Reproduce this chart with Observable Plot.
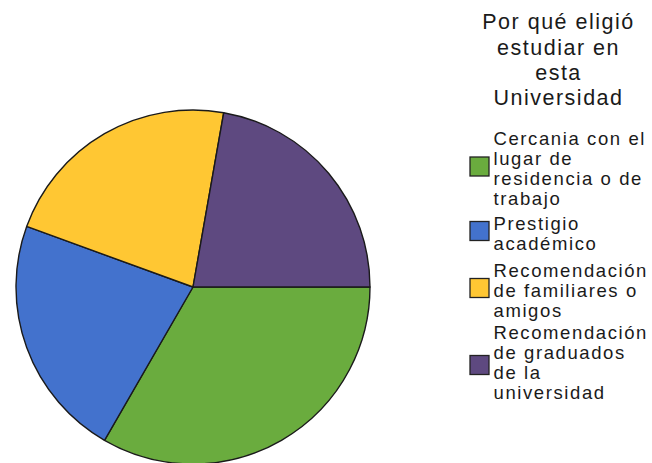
<!DOCTYPE html>
<html>
<head>
<meta charset="utf-8">
<script src="https://cdn.jsdelivr.net/npm/d3@7"></script>
<script src="https://cdn.jsdelivr.net/npm/@observablehq/plot@0.6"></script>
<style>
  html, body { margin: 0; padding: 0; background: #ffffff; }
  #chart svg .ttl text, #chart svg text.ttl { letter-spacing: 1.5px; }
  #chart svg .itm text, #chart svg text.itm { letter-spacing: 1.6px; }
</style>
</head>
<body>
<div id="chart"></div>
<script>
// ---- data ----
const categories = [
  "Cercania con el lugar de residencia o de trabajo",
  "Prestigio académico",
  "Recomendación de familiares o amigos",
  "Recomendación de graduados de la universidad"
];
const counts = [3, 2, 2, 2];
const legendLabels = [
  "Cercania con el\nlugar de\nresidencia o de\ntrabajo",
  "Prestigio\nacadémico",
  "Recomendación\nde familiares o\namigos",
  "Recomendación\nde graduados\nde la\nuniversidad"
];
const sliceColors = ["#6aac3e", "#4372cd", "#ffc733", "#5e4980"];
const legendTitle = "Por qué eligió\nestudiar en\nesta\nUniversidad";

// ---- layout (pixel-like data space) ----
const W = 652, H = 463;
const PIE = {cx: 193, cy: 287, r: 177};
const TITLE = {x: 558, top: 11};
const textTops = [130, 215, 262, 324];
const swatchCenters = [166.5, 231, 288, 365];
const SW = {x1: 470, x2: 489, size: 19, textX: 493};

const rows = categories.map((c, i) => ({
  category: c, count: counts[i], label: legendLabels[i],
  top: textTops[i], sc: swatchCenters[i]
}));

function pieMark(...args) {
  const scales = args.find(a => a && typeof a.x === "function" && typeof a.y === "function");
  const cx = scales.x(PIE.cx), cy = scales.y(PIE.cy);
  const r = scales.x(PIE.cx + PIE.r) - cx;
  const colorOf = scales.color ? scales.color : (c => sliceColors[categories.indexOf(c)]);
  const arcs = d3.pie().sort(null).value(d => d.count)
    .startAngle(Math.PI / 2).endAngle(Math.PI / 2 + 2 * Math.PI)(rows);
  const g = d3.create("svg:g").attr("transform", `translate(${cx},${cy})`);
  g.selectAll("path").data(arcs).join("path")
    .attr("d", d3.arc().innerRadius(0).outerRadius(r))
    .attr("fill", d => colorOf(d.data.category))
    .attr("stroke", "#1a1a1a")
    .attr("stroke-width", 1.4)
    .attr("stroke-linejoin", "round");
  return g.node();
}

const chart = Plot.plot({
  width: W,
  height: H,
  margin: 0,
  x: {domain: [0, W], range: [0, W], axis: null},
  y: {domain: [0, H], range: [0, H], axis: null},
  color: {domain: categories, range: sliceColors},
  style: {fontFamily: "'Liberation Sans', Arial, sans-serif", background: "#ffffff", overflow: "visible"},
  marks: [
    pieMark,
    Plot.rect(rows, {
      x1: () => SW.x1, x2: () => SW.x2,
      y1: d => d.sc - SW.size / 2, y2: d => d.sc + SW.size / 2,
      fill: "category", stroke: "#222222", strokeWidth: 1.3
    }),
    Plot.text(rows, {
      x: () => SW.textX, y: "top", text: "label",
      textAnchor: "start", lineAnchor: "top", lineHeight: 1.08,
      fontSize: 18.5, fill: "#1a1a1a", className: "itm"
    }),
    Plot.text([legendTitle], {
      x: () => TITLE.x, y: () => TITLE.top, text: d => d,
      textAnchor: "middle", lineAnchor: "top", lineHeight: 1.17,
      fontSize: 21.5, fill: "#1a1a1a", className: "ttl"
    })
  ]
});
document.getElementById("chart").appendChild(chart);
</script>
</body>
</html>
